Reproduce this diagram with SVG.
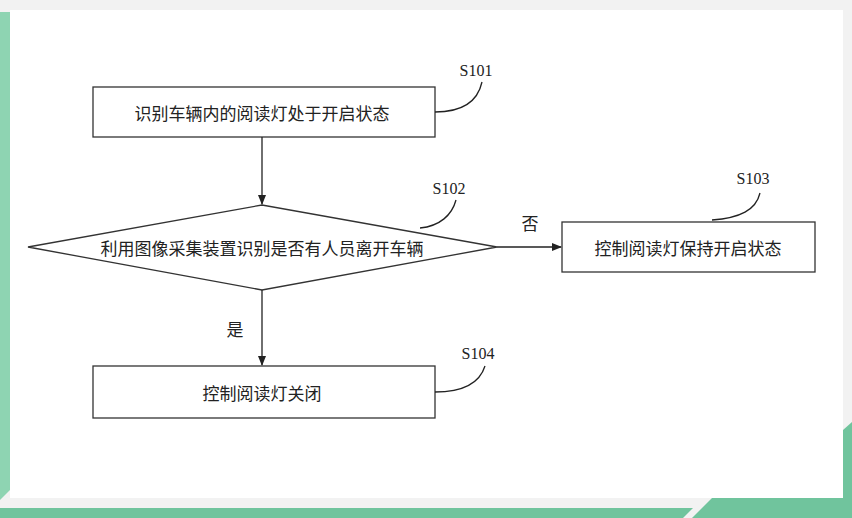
<svg xmlns="http://www.w3.org/2000/svg" width="852" height="518" viewBox="0 0 852 518">
<defs>
<style>
.b{fill:#fff;stroke:#333;stroke-width:1.3}
.t{font-family:"Noto Sans CJK SC","Liberation Serif",serif;font-size:17px;fill:#222;text-anchor:middle;dominant-baseline:central}
.l{font-family:"Liberation Serif",serif;font-size:16px;fill:#222;text-anchor:middle}
.c{fill:none;stroke:#222;stroke-width:1.3}
</style>
<marker id="a" markerWidth="10" markerHeight="10" refX="9" refY="5" orient="auto" markerUnits="userSpaceOnUse"><path d="M0,1 L10,5 L0,9 Z" fill="#222"/></marker>
</defs>
<rect width="852" height="518" fill="#f2f2f2"/>
<rect x="10" y="10" width="833" height="488" fill="#fff"/>
<path d="M0,12 H10 V490 L0,500 Z" fill="#8ed4b2"/>
<path d="M0,508 H693 L683,518 H0 Z" fill="#70c49d"/>
<path d="M712,498 H852 V518 H692 Z" fill="#70c49d"/>
<path d="M843,430 L852,422 V498 H843 Z" fill="#70c49d"/>
<g id="s101"><rect class="b" x="93" y="87" width="342" height="50"/><text class="t" x="262" y="112">识别车辆内的阅读灯处于开启状态</text></g>
<g id="s102"><polygon class="b" points="28,247 262,205 497,247 262,290"/><text class="t" x="262" y="247">利用图像采集装置识别是否有人员离开车辆</text></g>
<g id="s103"><rect class="b" x="562" y="222" width="253" height="50"/><text class="t" x="688" y="247">控制阅读灯保持开启状态</text></g>
<g id="s104"><rect class="b" x="93" y="366" width="342" height="52"/><text class="t" x="262" y="392">控制阅读灯关闭</text></g>
<g id="labels">
<text class="l" x="476" y="76">S101</text>
<text class="l" x="449" y="194">S102</text>
<text class="l" x="753" y="184">S103</text>
<text class="l" x="478" y="359">S104</text>
<text class="t" x="530" y="222">否</text>
<text class="t" x="235" y="328">是</text>
</g>
<g id="connectors">
<path class="c" d="M262,137 V204" marker-end="url(#a)"/>
<path class="c" d="M497,247 H561" marker-end="url(#a)"/>
<path class="c" d="M262,290 V365" marker-end="url(#a)"/>
<path class="c" d="M435,112 C465,112 478,100 482,82"/>
<path class="c" d="M420,228 C440,226 452,215 456,200"/>
<path class="c" d="M712,220 C740,218 756,210 760,193"/>
<path class="c" d="M435,392 C465,392 480,382 485,366"/>
</g>
</svg>
